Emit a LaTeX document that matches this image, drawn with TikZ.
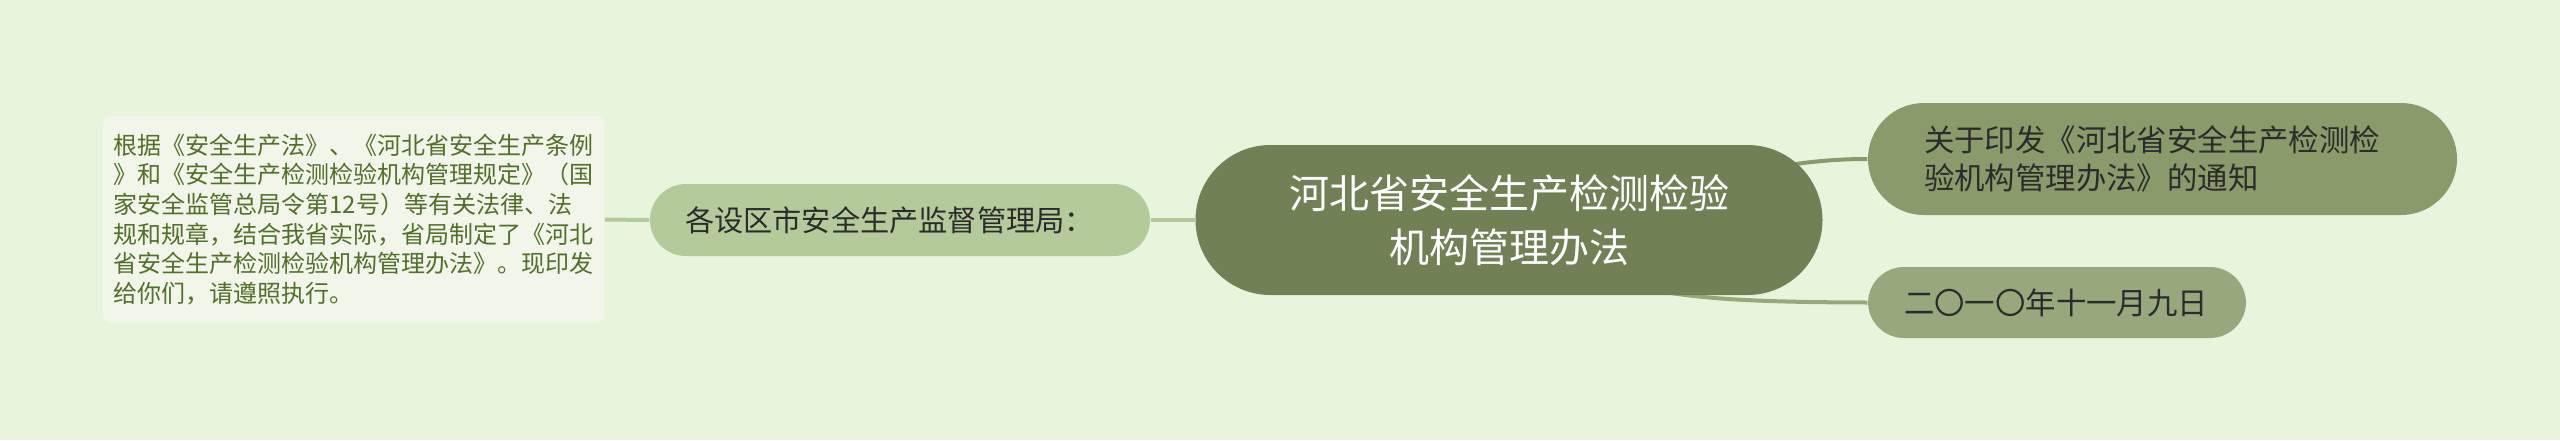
\documentclass[tikz,border=0pt]{standalone}
\usepackage{fontspec}
\newfontfamily\cjk{Noto Sans CJK SC}
\usetikzlibrary{backgrounds}

\definecolor{bgcol}{HTML}{E8F5DC}
\definecolor{rootcol}{HTML}{728056}
\definecolor{firstcol}{HTML}{8A9A6B}
\definecolor{secondcol}{HTML}{98A87C}
\definecolor{leftcol}{HTML}{B5CA9A}
\definecolor{notecol}{HTML}{F1F5EA}
\definecolor{notetext}{HTML}{52702A}
\definecolor{darktext}{HTML}{2B2B2B}

\tikzset{every picture/.style={line width=0.75pt}}
\tikzset{
  rootnode/.style={fill=rootcol, text=white, inner sep=0pt, minimum width=313.5pt, minimum height=75pt, rounded corners=37.5pt, align=center, font=\cjk\fontsize{20}{27}\selectfont},
  branch/.style={fill=#1, text=darktext, inner ysep=0pt, rounded corners=18pt, align=left, font=\cjk\fontsize{15.2}{19}\selectfont},
  notebox/.style={fill=notecol, text=notetext, inner sep=0pt, rounded corners=4pt, align=left, font=\cjk\fontsize{12}{14.85}\selectfont},
  link/.style={draw=#1, line width=2pt}
}

\begin{document}
\begin{tikzpicture}[x=0.5pt,y=0.5pt,yscale=-1,xscale=1]
\path[use as bounding box] (0,0) rectangle (2560,440);

% Root Node
\node (root) at (1509,220) [rootnode] {河北省安全生产检测检验\\机构管理办法};
% Left Node
\node (dept) at (900,220) [branch=leftcol, inner xsep=17.5pt, text width=215pt, minimum height=36pt, font=\cjk\fontsize{14.6}{18}\selectfont] {各设区市安全生产监督管理局：};
% Note Node
\node (note) at (353.5,219.5) [notebox, minimum width=250.5pt, minimum height=103.5pt] {根据《安全生产法》、《河北省安全生产条例\\》和《安全生产检测检验机构管理规定》（国\\家安全监管总局令第12号）等有关法律、法\\规和规章，结合我省实际，省局制定了《河北\\省安全生产检测检验机构管理办法》。现印发\\给你们，请遵照执行。};
% Right Nodes
\node (title) at (2162.5,159) [branch=firstcol, rounded corners=28pt, inner xsep=28pt, text width=238.5pt, minimum height=56pt] {关于印发《河北省安全生产检测检\\验机构管理办法》的通知};
\node (date) at (2057,302.5) [branch=secondcol, inner xsep=18pt, text width=153pt, minimum height=35.5pt] {二〇一〇年十一月九日};

\begin{pgfonlayer}{background}
\fill[bgcol] (0,0) rectangle (2560,440);
%Straight Lines
\draw[link=leftcol] (note.east) -- (dept.west);
\draw[link=leftcol] (dept.east) -- (root.west);
%Curve Lines
\draw[link=firstcol] (root.center) .. controls (1650,220) and (1720,159) .. (title.west);
\draw[link=secondcol] (root.center) .. controls (1600,290) and (1650,302) .. (date.west);
\end{pgfonlayer}

\end{tikzpicture}
\end{document}
